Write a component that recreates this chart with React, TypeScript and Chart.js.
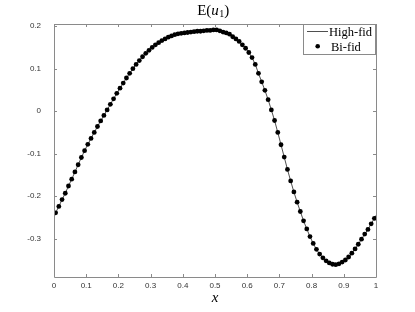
import React, { useEffect, useRef } from "react";
import { Chart, registerables } from "chart.js";

Chart.register(...registerables);

// x positions of the Bi-fid samples (0.005 .. 0.995, step 0.01)
const sampleX: number[] = Array.from({ length: 100 }, (_, i) => +(0.005 + 0.01 * i).toFixed(3));

const biFid: number[] = [
  -0.239, -0.224, -0.208, -0.193, -0.176, -0.160, -0.143, -0.126, -0.109, -0.093,
  -0.078, -0.064, -0.050, -0.036, -0.023, -0.010, 0.003, 0.016, 0.029, 0.042,
  0.054, 0.066, 0.078, 0.089, 0.100, 0.110, 0.119, 0.128, 0.136, 0.143,
  0.150, 0.156, 0.161, 0.166, 0.170, 0.174, 0.177, 0.180, 0.182, 0.183,
  0.184, 0.185, 0.186, 0.187, 0.188, 0.188, 0.189, 0.190, 0.190, 0.191,
  0.191, 0.189, 0.186, 0.184, 0.181, 0.175, 0.170, 0.164, 0.156, 0.148,
  0.138, 0.126, 0.110, 0.089, 0.069, 0.049, 0.027, 0.003, -0.022, -0.050,
  -0.079, -0.108, -0.137, -0.164, -0.190, -0.214, -0.236, -0.258, -0.277, -0.295,
  -0.311, -0.325, -0.336, -0.345, -0.352, -0.357, -0.360, -0.361, -0.359, -0.355,
  -0.350, -0.343, -0.334, -0.324, -0.313, -0.301, -0.289, -0.278, -0.265, -0.252,
];

// High-fid line end values at x = 0 and x = 1
const highFidStart = -0.246;
const highFidEnd = -0.245;

const xTicks: number[] = [0, 0.1, 0.2, 0.3, 0.4, 0.5, 0.6, 0.7, 0.8, 0.9, 1];
const yTicks: number[] = [-0.3, -0.2, -0.1, 0, 0.1, 0.2];
const xTickLabels: string[] = ["0", "0.1", "0.2", "0.3", "0.4", "0.5", "0.6", "0.7", "0.8", "0.9", "1"];

const AXIS_COLOR = "#8a8a8a";
const TEXT_COLOR = "#333333";
const SERIF = "'Liberation Serif', 'DejaVu Serif', serif";

const boxPlugin = {
  id: "matlabBox",
  afterDatasetsDraw(chart: any) {
    const { ctx, chartArea: a, scales } = chart;
    ctx.save();
    ctx.strokeStyle = AXIS_COLOR;
    ctx.lineWidth = 1;
    ctx.beginPath();
    ctx.rect(Math.round(a.left) + 0.5, Math.round(a.top) + 0.5, Math.round(a.right - a.left), Math.round(a.bottom - a.top));
    ctx.stroke();
    const tl = 3;
    ctx.beginPath();
    for (const v of xTicks) {
      const px = Math.round(scales.x.getPixelForValue(v)) + 0.5;
      ctx.moveTo(px, a.bottom);
      ctx.lineTo(px, a.bottom - tl);
      ctx.moveTo(px, a.top);
      ctx.lineTo(px, a.top + tl);
    }
    for (const v of yTicks) {
      const py = Math.round(scales.y.getPixelForValue(v)) + 0.5;
      ctx.moveTo(a.left, py);
      ctx.lineTo(a.left + tl, py);
      ctx.moveTo(a.right, py);
      ctx.lineTo(a.right - tl, py);
    }
    ctx.stroke();

    // x tick labels
    ctx.fillStyle = TEXT_COLOR;
    ctx.font = "8px 'Liberation Sans', Arial, sans-serif";
    ctx.textAlign = "center";
    ctx.textBaseline = "middle";
    xTicks.forEach((v, i) => {
      ctx.fillText(xTickLabels[i], scales.x.getPixelForValue(v), 286);
    });

    // Legend box
    const lx = 303.5, ly = 24.5, lw = 72, lh = 30;
    ctx.fillStyle = "#ffffff";
    ctx.fillRect(lx, ly, lw, lh);
    ctx.strokeStyle = AXIS_COLOR;
    ctx.strokeRect(lx, ly, lw, lh);
    ctx.strokeStyle = "#222";
    ctx.lineWidth = 0.8;
    ctx.beginPath();
    ctx.moveTo(307, 31.5);
    ctx.lineTo(328, 31.5);
    ctx.stroke();
    ctx.fillStyle = "#000";
    ctx.beginPath();
    ctx.arc(317.7, 46.3, 2.3, 0, Math.PI * 2);
    ctx.fill();
    ctx.font = "12.5px " + SERIF;
    ctx.textBaseline = "alphabetic";
    ctx.textAlign = "left";
    ctx.fillText("High-fid", 329, 35.5);
    ctx.fillText("Bi-fid", 331, 50.5);

    // Title E(u_1)
    const cx = 213;
    const base = 14.5;
    const fUp = "15px " + SERIF;
    const fIt = "italic 15px " + SERIF;
    const fSub = "10px " + SERIF;
    const parts: [string, string, number][] = [
      ["E(", fUp, 0],
      ["u", fIt, 0],
      ["1", fSub, 2.5],
      [")", fUp, 0],
    ];
    let total = 0;
    const widths: number[] = [];
    for (const [t, f] of parts) {
      ctx.font = f;
      const w = ctx.measureText(t).width;
      widths.push(w);
      total += w;
    }
    let x = cx - total / 2;
    parts.forEach(([t, f, dy], i) => {
      ctx.font = f;
      ctx.fillText(t, x, base + dy);
      x += widths[i] + (i === 1 ? 0.5 : 0);
    });

    // x axis label
    ctx.font = "italic 15px " + SERIF;
    ctx.textAlign = "center";
    ctx.fillText("x", 215, 302);
    ctx.restore();
  },
};

export default function App() {
  const ref = useRef<HTMLCanvasElement | null>(null);
  useEffect(() => {
    if (!ref.current) return;
    const linePts = [
      { x: 0, y: highFidStart },
      ...sampleX.map((x, i) => ({ x, y: biFid[i] })),
      { x: 1, y: highFidEnd },
    ];
    const dotPts = sampleX.map((x, i) => ({ x, y: biFid[i] }));
    const tickFont = { family: "'Liberation Sans', Arial, sans-serif", size: 8 };
    const chart = new Chart(ref.current, {
      type: "scatter",
      data: {
        datasets: [
          {
            label: "High-fid",
            data: linePts,
            showLine: true,
            borderColor: "#222",
            borderWidth: 0.8,
            pointRadius: 0,
            order: 2,
          } as any,
          {
            label: "Bi-fid",
            data: dotPts,
            showLine: false,
            pointRadius: 2.4,
            pointStyle: "circle",
            backgroundColor: "#000",
            borderColor: "#000",
            borderWidth: 0,
            order: 1,
          } as any,
        ],
      },
      options: {
        animation: false,
        responsive: false,
        maintainAspectRatio: false,
        layout: { padding: { left: 0, right: 39, top: 24, bottom: 0 } },
        plugins: { legend: { display: false }, title: { display: false }, tooltip: { enabled: false } },
        scales: {
          x: {
            type: "linear",
            min: 0,
            max: 1,
            grid: { display: false },
            border: { display: false },
            afterBuildTicks: (s: any) => {
              s.ticks = xTicks.map((v) => ({ value: v }));
            },
            afterFit: (s: any) => {
              s.height = 35;
            },
            ticks: { display: false },
          },
          y: {
            type: "linear",
            min: -0.39,
            max: 0.205,
            grid: { display: false },
            border: { display: false },
            afterBuildTicks: (s: any) => {
              s.ticks = yTicks.map((v) => ({ value: v }));
            },
            afterFit: (s: any) => {
              s.width = 54;
            },
            ticks: {
              font: tickFont,
              color: TEXT_COLOR,
              padding: 5,
              autoSkip: false,
              callback: (v: any) => String(+(+v).toFixed(1)),
            },
          },
        },
      } as any,
      plugins: [boxPlugin],
    });
    return () => chart.destroy();
  }, []);
  return (
    <div style={{ position: "fixed", left: 0, top: 0, width: 415, height: 312, background: "#fff" }}>
      <canvas ref={ref} width={415} height={312} style={{ width: 415, height: 312, display: "block" }} />
    </div>
  );
}
